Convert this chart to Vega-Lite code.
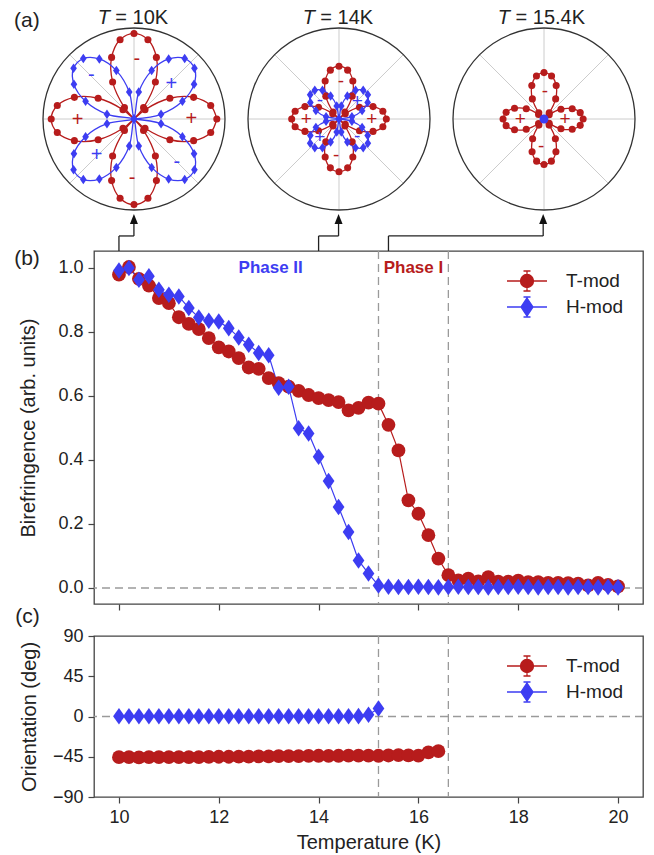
{
  "$schema": "https://vega.github.io/schema/vega-lite/v6.json",
  "padding": {"left": 13, "top": 7, "right": 0, "bottom": 0},
  "bounds": "flush",
  "spacing": 32,
  "resolve": {"scale": {"color": "independent", "shape": "independent", "fill": "independent", "stroke": "independent"}},
  "config": {
    "font": "Liberation Sans",
    "view": {"stroke": "#444444", "strokeWidth": 1.3},
    "axis": {"domain": false, "grid": false, "tickColor": "#444444", "tickSize": 6, "tickWidth": 1.2, "labelFontSize": 18, "labelColor": "#222222", "labelPadding": 5, "titleFontSize": 20, "titleFontWeight": "normal", "titleColor": "#222222"},
    "legend": {"orient": "top-right", "offset": 19, "padding": 0, "labelFontSize": 19, "labelColor": "#222222", "symbolSize": 400, "labelOffset": 28, "rowPadding": 0, "symbolStrokeWidth": 1.3, "symbolOpacity": 1}
  },
  "datasets": {
    "spokes": [
      {"x": -1, "y": 0, "x2": 1, "y2": 0},
      {"x": 0, "y": -1, "x2": 0, "y2": 1},
      {"x": -0.7071, "y": -0.7071, "x2": 0.7071, "y2": 0.7071},
      {"x": -0.7071, "y": 0.7071, "x2": 0.7071, "y2": -0.7071}
    ],
    "p10": [
      {"s": "T", "i": 0, "x": 0.91, "y": 0},
      {"s": "T", "i": 10, "x": 0.843, "y": 0.148},
      {"s": "T", "i": 20, "x": 0.655, "y": 0.238},
      {"s": "T", "i": 30, "x": 0.394, "y": 0.228},
      {"s": "T", "i": 40, "x": 0.121, "y": 0.102},
      {"s": "T", "i": 45, "x": 0, "y": 0},
      {"s": "T", "i": 50, "x": 0.105, "y": 0.125},
      {"s": "T", "i": 60, "x": 0.235, "y": 0.407},
      {"s": "T", "i": 70, "x": 0.246, "y": 0.677},
      {"s": "T", "i": 80, "x": 0.153, "y": 0.87},
      {"s": "T", "i": 90, "x": 0, "y": 0.94},
      {"s": "T", "i": 100, "x": -0.153, "y": 0.87},
      {"s": "T", "i": 110, "x": -0.246, "y": 0.677},
      {"s": "T", "i": 120, "x": -0.235, "y": 0.407},
      {"s": "T", "i": 130, "x": -0.105, "y": 0.125},
      {"s": "T", "i": 135, "x": 0, "y": 0},
      {"s": "T", "i": 140, "x": -0.121, "y": 0.102},
      {"s": "T", "i": 150, "x": -0.394, "y": 0.228},
      {"s": "T", "i": 160, "x": -0.655, "y": 0.238},
      {"s": "T", "i": 170, "x": -0.843, "y": 0.148},
      {"s": "T", "i": 180, "x": -0.91, "y": 0},
      {"s": "T", "i": 190, "x": -0.843, "y": -0.148},
      {"s": "T", "i": 200, "x": -0.655, "y": -0.238},
      {"s": "T", "i": 210, "x": -0.394, "y": -0.228},
      {"s": "T", "i": 220, "x": -0.121, "y": -0.102},
      {"s": "T", "i": 225, "x": 0, "y": 0},
      {"s": "T", "i": 230, "x": -0.105, "y": -0.125},
      {"s": "T", "i": 240, "x": -0.235, "y": -0.407},
      {"s": "T", "i": 250, "x": -0.246, "y": -0.677},
      {"s": "T", "i": 260, "x": -0.153, "y": -0.87},
      {"s": "T", "i": 270, "x": 0, "y": -0.94},
      {"s": "T", "i": 280, "x": 0.153, "y": -0.87},
      {"s": "T", "i": 290, "x": 0.246, "y": -0.677},
      {"s": "T", "i": 300, "x": 0.235, "y": -0.407},
      {"s": "T", "i": 310, "x": 0.105, "y": -0.125},
      {"s": "T", "i": 315, "x": 0, "y": 0},
      {"s": "T", "i": 320, "x": 0.121, "y": -0.102},
      {"s": "T", "i": 330, "x": 0.394, "y": -0.228},
      {"s": "T", "i": 340, "x": 0.655, "y": -0.238},
      {"s": "T", "i": 350, "x": 0.843, "y": -0.148},
      {"s": "T", "i": 360, "x": 0.91, "y": 0},
      {"s": "H", "i": 0, "x": 0, "y": 0},
      {"s": "H", "i": 10, "x": 0.297, "y": 0.052},
      {"s": "H", "i": 20, "x": 0.532, "y": 0.194},
      {"s": "H", "i": 30, "x": 0.66, "y": 0.381},
      {"s": "H", "i": 40, "x": 0.664, "y": 0.557},
      {"s": "H", "i": 50, "x": 0.557, "y": 0.664},
      {"s": "H", "i": 60, "x": 0.381, "y": 0.66},
      {"s": "H", "i": 70, "x": 0.194, "y": 0.532},
      {"s": "H", "i": 80, "x": 0.052, "y": 0.297},
      {"s": "H", "i": 90, "x": 0, "y": 0},
      {"s": "H", "i": 100, "x": -0.052, "y": 0.297},
      {"s": "H", "i": 110, "x": -0.194, "y": 0.532},
      {"s": "H", "i": 120, "x": -0.381, "y": 0.66},
      {"s": "H", "i": 130, "x": -0.557, "y": 0.664},
      {"s": "H", "i": 140, "x": -0.664, "y": 0.557},
      {"s": "H", "i": 150, "x": -0.66, "y": 0.381},
      {"s": "H", "i": 160, "x": -0.532, "y": 0.194},
      {"s": "H", "i": 170, "x": -0.297, "y": 0.052},
      {"s": "H", "i": 180, "x": 0, "y": 0},
      {"s": "H", "i": 190, "x": -0.297, "y": -0.052},
      {"s": "H", "i": 200, "x": -0.532, "y": -0.194},
      {"s": "H", "i": 210, "x": -0.66, "y": -0.381},
      {"s": "H", "i": 220, "x": -0.664, "y": -0.557},
      {"s": "H", "i": 230, "x": -0.557, "y": -0.664},
      {"s": "H", "i": 240, "x": -0.381, "y": -0.66},
      {"s": "H", "i": 250, "x": -0.194, "y": -0.532},
      {"s": "H", "i": 260, "x": -0.052, "y": -0.297},
      {"s": "H", "i": 270, "x": 0, "y": 0},
      {"s": "H", "i": 280, "x": 0.052, "y": -0.297},
      {"s": "H", "i": 290, "x": 0.194, "y": -0.532},
      {"s": "H", "i": 300, "x": 0.381, "y": -0.66},
      {"s": "H", "i": 310, "x": 0.557, "y": -0.664},
      {"s": "H", "i": 320, "x": 0.664, "y": -0.557},
      {"s": "H", "i": 330, "x": 0.66, "y": -0.381},
      {"s": "H", "i": 340, "x": 0.532, "y": -0.194},
      {"s": "H", "i": 350, "x": 0.297, "y": -0.052},
      {"s": "H", "i": 360, "x": 0, "y": 0}
    ],
    "p14": [
      {"s": "T", "i": 0, "x": 0.52, "y": 0},
      {"s": "T", "i": 10, "x": 0.482, "y": 0.085},
      {"s": "T", "i": 20, "x": 0.374, "y": 0.136},
      {"s": "T", "i": 30, "x": 0.225, "y": 0.13},
      {"s": "T", "i": 40, "x": 0.069, "y": 0.058},
      {"s": "T", "i": 45, "x": 0, "y": 0},
      {"s": "T", "i": 50, "x": 0.065, "y": 0.077},
      {"s": "T", "i": 60, "x": 0.145, "y": 0.251},
      {"s": "T", "i": 70, "x": 0.152, "y": 0.418},
      {"s": "T", "i": 80, "x": 0.095, "y": 0.537},
      {"s": "T", "i": 90, "x": 0, "y": 0.58},
      {"s": "T", "i": 100, "x": -0.095, "y": 0.537},
      {"s": "T", "i": 110, "x": -0.152, "y": 0.418},
      {"s": "T", "i": 120, "x": -0.145, "y": 0.251},
      {"s": "T", "i": 130, "x": -0.065, "y": 0.077},
      {"s": "T", "i": 135, "x": 0, "y": 0},
      {"s": "T", "i": 140, "x": -0.069, "y": 0.058},
      {"s": "T", "i": 150, "x": -0.225, "y": 0.13},
      {"s": "T", "i": 160, "x": -0.374, "y": 0.136},
      {"s": "T", "i": 170, "x": -0.482, "y": 0.085},
      {"s": "T", "i": 180, "x": -0.52, "y": 0},
      {"s": "T", "i": 190, "x": -0.482, "y": -0.085},
      {"s": "T", "i": 200, "x": -0.374, "y": -0.136},
      {"s": "T", "i": 210, "x": -0.225, "y": -0.13},
      {"s": "T", "i": 220, "x": -0.069, "y": -0.058},
      {"s": "T", "i": 225, "x": 0, "y": 0},
      {"s": "T", "i": 230, "x": -0.065, "y": -0.077},
      {"s": "T", "i": 240, "x": -0.145, "y": -0.251},
      {"s": "T", "i": 250, "x": -0.152, "y": -0.418},
      {"s": "T", "i": 260, "x": -0.095, "y": -0.537},
      {"s": "T", "i": 270, "x": 0, "y": -0.58},
      {"s": "T", "i": 280, "x": 0.095, "y": -0.537},
      {"s": "T", "i": 290, "x": 0.152, "y": -0.418},
      {"s": "T", "i": 300, "x": 0.145, "y": -0.251},
      {"s": "T", "i": 310, "x": 0.065, "y": -0.077},
      {"s": "T", "i": 315, "x": 0, "y": 0},
      {"s": "T", "i": 320, "x": 0.069, "y": -0.058},
      {"s": "T", "i": 330, "x": 0.225, "y": -0.13},
      {"s": "T", "i": 340, "x": 0.374, "y": -0.136},
      {"s": "T", "i": 350, "x": 0.482, "y": -0.085},
      {"s": "T", "i": 360, "x": 0.52, "y": 0},
      {"s": "H", "i": 0, "x": 0, "y": 0},
      {"s": "H", "i": 10, "x": 0.142, "y": 0.025},
      {"s": "H", "i": 20, "x": 0.254, "y": 0.092},
      {"s": "H", "i": 30, "x": 0.315, "y": 0.182},
      {"s": "H", "i": 40, "x": 0.317, "y": 0.266},
      {"s": "H", "i": 50, "x": 0.266, "y": 0.317},
      {"s": "H", "i": 60, "x": 0.182, "y": 0.315},
      {"s": "H", "i": 70, "x": 0.092, "y": 0.254},
      {"s": "H", "i": 80, "x": 0.025, "y": 0.142},
      {"s": "H", "i": 90, "x": 0, "y": 0},
      {"s": "H", "i": 100, "x": -0.025, "y": 0.142},
      {"s": "H", "i": 110, "x": -0.092, "y": 0.254},
      {"s": "H", "i": 120, "x": -0.182, "y": 0.315},
      {"s": "H", "i": 130, "x": -0.266, "y": 0.317},
      {"s": "H", "i": 140, "x": -0.317, "y": 0.266},
      {"s": "H", "i": 150, "x": -0.315, "y": 0.182},
      {"s": "H", "i": 160, "x": -0.254, "y": 0.092},
      {"s": "H", "i": 170, "x": -0.142, "y": 0.025},
      {"s": "H", "i": 180, "x": 0, "y": 0},
      {"s": "H", "i": 190, "x": -0.142, "y": -0.025},
      {"s": "H", "i": 200, "x": -0.254, "y": -0.092},
      {"s": "H", "i": 210, "x": -0.315, "y": -0.182},
      {"s": "H", "i": 220, "x": -0.317, "y": -0.266},
      {"s": "H", "i": 230, "x": -0.266, "y": -0.317},
      {"s": "H", "i": 240, "x": -0.182, "y": -0.315},
      {"s": "H", "i": 250, "x": -0.092, "y": -0.254},
      {"s": "H", "i": 260, "x": -0.025, "y": -0.142},
      {"s": "H", "i": 270, "x": 0, "y": 0},
      {"s": "H", "i": 280, "x": 0.025, "y": -0.142},
      {"s": "H", "i": 290, "x": 0.092, "y": -0.254},
      {"s": "H", "i": 300, "x": 0.182, "y": -0.315},
      {"s": "H", "i": 310, "x": 0.266, "y": -0.317},
      {"s": "H", "i": 320, "x": 0.317, "y": -0.266},
      {"s": "H", "i": 330, "x": 0.315, "y": -0.182},
      {"s": "H", "i": 340, "x": 0.254, "y": -0.092},
      {"s": "H", "i": 350, "x": 0.142, "y": -0.025},
      {"s": "H", "i": 360, "x": 0, "y": 0}
    ],
    "p15": [
      {"s": "T", "i": 0, "x": 0.43, "y": 0},
      {"s": "T", "i": 10, "x": 0.398, "y": 0.07},
      {"s": "T", "i": 20, "x": 0.31, "y": 0.113},
      {"s": "T", "i": 30, "x": 0.186, "y": 0.108},
      {"s": "T", "i": 40, "x": 0.057, "y": 0.048},
      {"s": "T", "i": 45, "x": 0, "y": 0},
      {"s": "T", "i": 50, "x": 0.057, "y": 0.068},
      {"s": "T", "i": 60, "x": 0.128, "y": 0.221},
      {"s": "T", "i": 70, "x": 0.134, "y": 0.367},
      {"s": "T", "i": 80, "x": 0.083, "y": 0.472},
      {"s": "T", "i": 90, "x": 0, "y": 0.51},
      {"s": "T", "i": 100, "x": -0.083, "y": 0.472},
      {"s": "T", "i": 110, "x": -0.134, "y": 0.367},
      {"s": "T", "i": 120, "x": -0.128, "y": 0.221},
      {"s": "T", "i": 130, "x": -0.057, "y": 0.068},
      {"s": "T", "i": 135, "x": 0, "y": 0},
      {"s": "T", "i": 140, "x": -0.06, "y": 0.05},
      {"s": "T", "i": 150, "x": -0.195, "y": 0.113},
      {"s": "T", "i": 160, "x": -0.324, "y": 0.118},
      {"s": "T", "i": 170, "x": -0.416, "y": 0.073},
      {"s": "T", "i": 180, "x": -0.45, "y": 0},
      {"s": "T", "i": 190, "x": -0.416, "y": -0.073},
      {"s": "T", "i": 200, "x": -0.324, "y": -0.118},
      {"s": "T", "i": 210, "x": -0.195, "y": -0.113},
      {"s": "T", "i": 220, "x": -0.06, "y": -0.05},
      {"s": "T", "i": 225, "x": 0, "y": 0},
      {"s": "T", "i": 230, "x": -0.056, "y": -0.067},
      {"s": "T", "i": 240, "x": -0.125, "y": -0.217},
      {"s": "T", "i": 250, "x": -0.131, "y": -0.36},
      {"s": "T", "i": 260, "x": -0.081, "y": -0.463},
      {"s": "T", "i": 270, "x": 0, "y": -0.5},
      {"s": "T", "i": 280, "x": 0.081, "y": -0.463},
      {"s": "T", "i": 290, "x": 0.131, "y": -0.36},
      {"s": "T", "i": 300, "x": 0.125, "y": -0.217},
      {"s": "T", "i": 310, "x": 0.056, "y": -0.067},
      {"s": "T", "i": 315, "x": 0, "y": 0},
      {"s": "T", "i": 320, "x": 0.057, "y": -0.048},
      {"s": "T", "i": 330, "x": 0.186, "y": -0.108},
      {"s": "T", "i": 340, "x": 0.31, "y": -0.113},
      {"s": "T", "i": 350, "x": 0.398, "y": -0.07},
      {"s": "T", "i": 360, "x": 0.43, "y": 0},
      {"s": "H", "i": 0, "x": 0, "y": 0}
    ],
    "signs": [
      {"p": "10K", "c": "T", "t": "-", "x": 0.03, "y": 0.66},
      {"p": "10K", "c": "T", "t": "+", "x": 0.63, "y": 0},
      {"p": "10K", "c": "T", "t": "+", "x": -0.62, "y": -0.01},
      {"p": "10K", "c": "T", "t": "-", "x": -0.02, "y": -0.65},
      {"p": "10K", "c": "H", "t": "+", "x": 0.41, "y": 0.39},
      {"p": "10K", "c": "H", "t": "-", "x": -0.47, "y": 0.48},
      {"p": "10K", "c": "H", "t": "+", "x": -0.41, "y": -0.4},
      {"p": "10K", "c": "H", "t": "-", "x": 0.47, "y": -0.47},
      {"p": "14K", "c": "T", "t": "-", "x": 0.02, "y": 0.42},
      {"p": "14K", "c": "T", "t": "+", "x": 0.36, "y": 0},
      {"p": "14K", "c": "T", "t": "+", "x": -0.36, "y": 0},
      {"p": "14K", "c": "T", "t": "-", "x": -0.03, "y": -0.4},
      {"p": "14K", "c": "H", "t": "-", "x": -0.21, "y": 0.21},
      {"p": "14K", "c": "H", "t": "+", "x": 0.2, "y": 0.2},
      {"p": "14K", "c": "H", "t": "+", "x": -0.21, "y": -0.2},
      {"p": "14K", "c": "H", "t": "-", "x": 0.2, "y": -0.19},
      {"p": "15.4K", "c": "T", "t": "-", "x": 0.01, "y": 0.31},
      {"p": "15.4K", "c": "T", "t": "+", "x": 0.23, "y": 0},
      {"p": "15.4K", "c": "T", "t": "+", "x": -0.26, "y": 0},
      {"p": "15.4K", "c": "T", "t": "-", "x": -0.03, "y": -0.3}
    ],
    "bire": [
      {"T": 10.0, "mod": "T-mod", "v": 0.979}, {"T": 10.2, "mod": "T-mod", "v": 1.003}, {"T": 10.4, "mod": "T-mod", "v": 0.966},
      {"T": 10.6, "mod": "T-mod", "v": 0.945}, {"T": 10.8, "mod": "T-mod", "v": 0.906}, {"T": 11.0, "mod": "T-mod", "v": 0.89},
      {"T": 11.2, "mod": "T-mod", "v": 0.846}, {"T": 11.4, "mod": "T-mod", "v": 0.825}, {"T": 11.6, "mod": "T-mod", "v": 0.809},
      {"T": 11.8, "mod": "T-mod", "v": 0.781}, {"T": 12.0, "mod": "T-mod", "v": 0.752}, {"T": 12.2, "mod": "T-mod", "v": 0.739},
      {"T": 12.4, "mod": "T-mod", "v": 0.718}, {"T": 12.6, "mod": "T-mod", "v": 0.689}, {"T": 12.8, "mod": "T-mod", "v": 0.685},
      {"T": 13.0, "mod": "T-mod", "v": 0.656}, {"T": 13.2, "mod": "T-mod", "v": 0.64}, {"T": 13.4, "mod": "T-mod", "v": 0.629},
      {"T": 13.6, "mod": "T-mod", "v": 0.616}, {"T": 13.8, "mod": "T-mod", "v": 0.603}, {"T": 14.0, "mod": "T-mod", "v": 0.593},
      {"T": 14.2, "mod": "T-mod", "v": 0.587}, {"T": 14.4, "mod": "T-mod", "v": 0.581}, {"T": 14.6, "mod": "T-mod", "v": 0.555},
      {"T": 14.8, "mod": "T-mod", "v": 0.563}, {"T": 15.0, "mod": "T-mod", "v": 0.579}, {"T": 15.2, "mod": "T-mod", "v": 0.576},
      {"T": 15.4, "mod": "T-mod", "v": 0.51}, {"T": 15.6, "mod": "T-mod", "v": 0.43}, {"T": 15.8, "mod": "T-mod", "v": 0.274},
      {"T": 16.0, "mod": "T-mod", "v": 0.232}, {"T": 16.2, "mod": "T-mod", "v": 0.165}, {"T": 16.4, "mod": "T-mod", "v": 0.092},
      {"T": 16.6, "mod": "T-mod", "v": 0.04}, {"T": 16.8, "mod": "T-mod", "v": 0.024}, {"T": 17.0, "mod": "T-mod", "v": 0.029},
      {"T": 17.2, "mod": "T-mod", "v": 0.021}, {"T": 17.4, "mod": "T-mod", "v": 0.034}, {"T": 17.6, "mod": "T-mod", "v": 0.02},
      {"T": 17.8, "mod": "T-mod", "v": 0.02}, {"T": 18.0, "mod": "T-mod", "v": 0.023}, {"T": 18.2, "mod": "T-mod", "v": 0.018},
      {"T": 18.4, "mod": "T-mod", "v": 0.018}, {"T": 18.6, "mod": "T-mod", "v": 0.016}, {"T": 18.8, "mod": "T-mod", "v": 0.016},
      {"T": 19.0, "mod": "T-mod", "v": 0.015}, {"T": 19.2, "mod": "T-mod", "v": 0.014}, {"T": 19.4, "mod": "T-mod", "v": 0.008},
      {"T": 19.6, "mod": "T-mod", "v": 0.016}, {"T": 19.8, "mod": "T-mod", "v": 0.01}, {"T": 20.0, "mod": "T-mod", "v": 0.005},
      {"T": 10.0, "mod": "H-mod", "v": 0.992}, {"T": 10.2, "mod": "H-mod", "v": 1.0}, {"T": 10.4, "mod": "H-mod", "v": 0.963},
      {"T": 10.6, "mod": "H-mod", "v": 0.974}, {"T": 10.8, "mod": "H-mod", "v": 0.932}, {"T": 11.0, "mod": "H-mod", "v": 0.916},
      {"T": 11.2, "mod": "H-mod", "v": 0.911}, {"T": 11.4, "mod": "H-mod", "v": 0.875}, {"T": 11.6, "mod": "H-mod", "v": 0.845},
      {"T": 11.8, "mod": "H-mod", "v": 0.835}, {"T": 12.0, "mod": "H-mod", "v": 0.833}, {"T": 12.2, "mod": "H-mod", "v": 0.812},
      {"T": 12.4, "mod": "H-mod", "v": 0.783}, {"T": 12.6, "mod": "H-mod", "v": 0.76}, {"T": 12.8, "mod": "H-mod", "v": 0.734},
      {"T": 13.0, "mod": "H-mod", "v": 0.727}, {"T": 13.2, "mod": "H-mod", "v": 0.626}, {"T": 13.4, "mod": "H-mod", "v": 0.629},
      {"T": 13.6, "mod": "H-mod", "v": 0.499}, {"T": 13.8, "mod": "H-mod", "v": 0.483}, {"T": 14.0, "mod": "H-mod", "v": 0.41},
      {"T": 14.2, "mod": "H-mod", "v": 0.334}, {"T": 14.4, "mod": "H-mod", "v": 0.253}, {"T": 14.6, "mod": "H-mod", "v": 0.175},
      {"T": 14.8, "mod": "H-mod", "v": 0.086}, {"T": 15.0, "mod": "H-mod", "v": 0.045}, {"T": 15.2, "mod": "H-mod", "v": 0.008},
      {"T": 15.4, "mod": "H-mod", "v": 0.004}, {"T": 15.6, "mod": "H-mod", "v": 0.003}, {"T": 15.8, "mod": "H-mod", "v": 0.003},
      {"T": 16.0, "mod": "H-mod", "v": 0.004}, {"T": 16.2, "mod": "H-mod", "v": 0.003}, {"T": 16.4, "mod": "H-mod", "v": 0.002},
      {"T": 16.6, "mod": "H-mod", "v": 0.003}, {"T": 16.8, "mod": "H-mod", "v": 0.004}, {"T": 17.0, "mod": "H-mod", "v": 0.003},
      {"T": 17.2, "mod": "H-mod", "v": 0.003}, {"T": 17.4, "mod": "H-mod", "v": 0.002}, {"T": 17.6, "mod": "H-mod", "v": 0.003},
      {"T": 17.8, "mod": "H-mod", "v": 0.003}, {"T": 18.0, "mod": "H-mod", "v": 0.004}, {"T": 18.2, "mod": "H-mod", "v": 0.003},
      {"T": 18.4, "mod": "H-mod", "v": 0.002}, {"T": 18.6, "mod": "H-mod", "v": 0.003}, {"T": 18.8, "mod": "H-mod", "v": 0.003},
      {"T": 19.0, "mod": "H-mod", "v": 0.002}, {"T": 19.2, "mod": "H-mod", "v": 0.003}, {"T": 19.4, "mod": "H-mod", "v": 0.003},
      {"T": 19.6, "mod": "H-mod", "v": 0.002}, {"T": 19.8, "mod": "H-mod", "v": 0.003}, {"T": 20.0, "mod": "H-mod", "v": 0.002}
    ],
    "orient": [
      {"T": 10.0, "mod": "T-mod", "v": -45.5}, {"T": 10.2, "mod": "T-mod", "v": -45.5}, {"T": 10.4, "mod": "T-mod", "v": -45.6},
      {"T": 10.6, "mod": "T-mod", "v": -45.5}, {"T": 10.8, "mod": "T-mod", "v": -45.4}, {"T": 11.0, "mod": "T-mod", "v": -45.3},
      {"T": 11.2, "mod": "T-mod", "v": -45.3}, {"T": 11.4, "mod": "T-mod", "v": -45.4}, {"T": 11.6, "mod": "T-mod", "v": -45.3},
      {"T": 11.8, "mod": "T-mod", "v": -45.1}, {"T": 12.0, "mod": "T-mod", "v": -45.0}, {"T": 12.2, "mod": "T-mod", "v": -45.0},
      {"T": 12.4, "mod": "T-mod", "v": -44.8}, {"T": 12.6, "mod": "T-mod", "v": -44.8}, {"T": 12.8, "mod": "T-mod", "v": -44.6},
      {"T": 13.0, "mod": "T-mod", "v": -44.5}, {"T": 13.2, "mod": "T-mod", "v": -44.4}, {"T": 13.4, "mod": "T-mod", "v": -44.3},
      {"T": 13.6, "mod": "T-mod", "v": -44.2}, {"T": 13.8, "mod": "T-mod", "v": -44.0}, {"T": 14.0, "mod": "T-mod", "v": -43.9},
      {"T": 14.2, "mod": "T-mod", "v": -44.0}, {"T": 14.4, "mod": "T-mod", "v": -43.9}, {"T": 14.6, "mod": "T-mod", "v": -43.8},
      {"T": 14.8, "mod": "T-mod", "v": -43.7}, {"T": 15.0, "mod": "T-mod", "v": -43.8}, {"T": 15.2, "mod": "T-mod", "v": -43.9},
      {"T": 15.4, "mod": "T-mod", "v": -43.6}, {"T": 15.6, "mod": "T-mod", "v": -43.3}, {"T": 15.8, "mod": "T-mod", "v": -43.4},
      {"T": 16.0, "mod": "T-mod", "v": -43.7}, {"T": 16.2, "mod": "T-mod", "v": -40.0}, {"T": 16.4, "mod": "T-mod", "v": -38.8},
      {"T": 10.0, "mod": "H-mod", "v": 0.2}, {"T": 10.2, "mod": "H-mod", "v": 0.3}, {"T": 10.4, "mod": "H-mod", "v": 0.2},
      {"T": 10.6, "mod": "H-mod", "v": 0.2}, {"T": 10.8, "mod": "H-mod", "v": 0.3}, {"T": 11.0, "mod": "H-mod", "v": 0.2},
      {"T": 11.2, "mod": "H-mod", "v": 0.2}, {"T": 11.4, "mod": "H-mod", "v": 0.3}, {"T": 11.6, "mod": "H-mod", "v": 0.2},
      {"T": 11.8, "mod": "H-mod", "v": 0.2}, {"T": 12.0, "mod": "H-mod", "v": 0.3}, {"T": 12.2, "mod": "H-mod", "v": 0.2},
      {"T": 12.4, "mod": "H-mod", "v": 0.2}, {"T": 12.6, "mod": "H-mod", "v": 0.3}, {"T": 12.8, "mod": "H-mod", "v": 0.2},
      {"T": 13.0, "mod": "H-mod", "v": 0.2}, {"T": 13.2, "mod": "H-mod", "v": 0.3}, {"T": 13.4, "mod": "H-mod", "v": 0.2},
      {"T": 13.6, "mod": "H-mod", "v": 0.2}, {"T": 13.8, "mod": "H-mod", "v": 0.3}, {"T": 14.0, "mod": "H-mod", "v": 0.2},
      {"T": 14.2, "mod": "H-mod", "v": 0.2}, {"T": 14.4, "mod": "H-mod", "v": 0.3}, {"T": 14.6, "mod": "H-mod", "v": 0.3},
      {"T": 14.8, "mod": "H-mod", "v": 0.4}, {"T": 15.0, "mod": "H-mod", "v": 2.0}, {"T": 15.2, "mod": "H-mod", "v": 9.0}
    ]
  },
  "vconcat": [
    {
      "width": 549, "height": 191,
      "view": {"stroke": null},
      "resolve": {"scale": {"x": "independent"}},
      "layer": [
        {
          "layer": [
            {"data": {"name": "spokes"}, "mark": {"type": "rule", "color": "#cccccc", "strokeWidth": 1},
             "encoding": {"x": {"field": "x", "type": "quantitative", "scale": {"domain": [-0.4396, 5.5934], "nice": false, "zero": false}, "axis": null},
                          "y": {"field": "y", "type": "quantitative", "scale": {"domain": [-1.0989, 1], "nice": false, "zero": false}, "axis": null},
                          "x2": {"field": "x2"}, "y2": {"field": "y2"}}},
            {"data": {"values": [{}]}, "mark": {"type": "point", "shape": "circle", "size": 33124, "filled": false, "stroke": "#333333", "strokeWidth": 1.3, "opacity": 1},
             "encoding": {"x": {"datum": 0, "type": "quantitative"}, "y": {"datum": 0, "type": "quantitative"}}},
            {"data": {"name": "p10"}, "transform": [{"filter": "datum.s === 'T'"}], "mark": {"type": "line", "color": "#b71c1c", "strokeWidth": 1.3, "interpolate": "catmull-rom"},
             "encoding": {"x": {"field": "x", "type": "quantitative"}, "y": {"field": "y", "type": "quantitative"}, "order": {"field": "i", "type": "quantitative"}}},
            {"data": {"name": "p10"}, "transform": [{"filter": "datum.s === 'H'"}], "mark": {"type": "line", "color": "#3d3df2", "strokeWidth": 1.3, "interpolate": "catmull-rom"},
             "encoding": {"x": {"field": "x", "type": "quantitative"}, "y": {"field": "y", "type": "quantitative"}, "order": {"field": "i", "type": "quantitative"}}},
            {"data": {"name": "p10"}, "transform": [{"filter": "datum.s === 'T' && datum.i % 10 === 0 && datum.i < 360"}], "mark": {"type": "point", "shape": "circle", "filled": true, "color": "#b71c1c", "size": 50, "opacity": 1},
             "encoding": {"x": {"field": "x", "type": "quantitative"}, "y": {"field": "y", "type": "quantitative"}}},
            {"data": {"name": "p10"}, "transform": [{"filter": "datum.s === 'H' && datum.i < 360"}], "mark": {"type": "point", "shape": "M0,-1L0.7,0L0,1L-0.7,0Z", "filled": true, "color": "#3d3df2", "size": 90, "opacity": 1},
             "encoding": {"x": {"field": "x", "type": "quantitative"}, "y": {"field": "y", "type": "quantitative"}}},
            {"data": {"name": "signs"}, "transform": [{"filter": "datum.p === '10K'"}], "mark": {"type": "text", "fontSize": 20, "align": "center", "baseline": "middle"},
             "encoding": {"x": {"field": "x", "type": "quantitative"}, "y": {"field": "y", "type": "quantitative"}, "text": {"field": "t"},
                          "color": {"field": "c", "type": "nominal", "scale": {"domain": ["T", "H"], "range": ["#b71c1c", "#3d3df2"]}, "legend": null}}},
            {"data": {"values": [{}]}, "mark": {"type": "text", "text": "T", "fontStyle": "italic", "fontSize": 20, "align": "left", "baseline": "alphabetic", "color": "#222222"},
             "encoding": {"x": {"datum": -0.399, "type": "quantitative"}, "y": {"datum": 1.047, "type": "quantitative"}}},
            {"data": {"values": [{}]}, "mark": {"type": "text", "text": "= 10K", "fontSize": 20, "align": "left", "baseline": "alphabetic", "color": "#222222"},
             "encoding": {"x": {"datum": -0.205, "type": "quantitative"}, "y": {"datum": 1.047, "type": "quantitative"}}},
            {"data": {"values": [{}]}, "mark": {"type": "text", "text": "(a)", "fontSize": 21, "align": "left", "baseline": "alphabetic", "color": "#222222"},
             "encoding": {"x": {"datum": -1.319, "type": "quantitative"}, "y": {"datum": 1.011, "type": "quantitative"}}}
          ]
        },
        {
          "layer": [
            {"data": {"name": "spokes"}, "mark": {"type": "rule", "color": "#cccccc", "strokeWidth": 1},
             "encoding": {"x": {"field": "x", "type": "quantitative", "scale": {"domain": [-2.6923, 3.3407], "nice": false, "zero": false}, "axis": null},
                          "y": {"field": "y", "type": "quantitative", "scale": {"domain": [-1.0989, 1], "nice": false, "zero": false}, "axis": null},
                          "x2": {"field": "x2"}, "y2": {"field": "y2"}}},
            {"data": {"values": [{}]}, "mark": {"type": "point", "shape": "circle", "size": 33124, "filled": false, "stroke": "#333333", "strokeWidth": 1.3, "opacity": 1},
             "encoding": {"x": {"datum": 0, "type": "quantitative"}, "y": {"datum": 0, "type": "quantitative"}}},
            {"data": {"name": "p14"}, "transform": [{"filter": "datum.s === 'T'"}], "mark": {"type": "line", "color": "#b71c1c", "strokeWidth": 1.3, "interpolate": "catmull-rom"},
             "encoding": {"x": {"field": "x", "type": "quantitative"}, "y": {"field": "y", "type": "quantitative"}, "order": {"field": "i", "type": "quantitative"}}},
            {"data": {"name": "p14"}, "transform": [{"filter": "datum.s === 'H'"}], "mark": {"type": "line", "color": "#3d3df2", "strokeWidth": 1.3, "interpolate": "catmull-rom"},
             "encoding": {"x": {"field": "x", "type": "quantitative"}, "y": {"field": "y", "type": "quantitative"}, "order": {"field": "i", "type": "quantitative"}}},
            {"data": {"name": "p14"}, "transform": [{"filter": "datum.s === 'T' && datum.i % 10 === 0 && datum.i < 360"}], "mark": {"type": "point", "shape": "circle", "filled": true, "color": "#b71c1c", "size": 50, "opacity": 1},
             "encoding": {"x": {"field": "x", "type": "quantitative"}, "y": {"field": "y", "type": "quantitative"}}},
            {"data": {"name": "p14"}, "transform": [{"filter": "datum.s === 'H' && datum.i < 360"}], "mark": {"type": "point", "shape": "M0,-1L0.7,0L0,1L-0.7,0Z", "filled": true, "color": "#3d3df2", "size": 90, "opacity": 1},
             "encoding": {"x": {"field": "x", "type": "quantitative"}, "y": {"field": "y", "type": "quantitative"}}},
            {"data": {"name": "signs"}, "transform": [{"filter": "datum.p === '14K'"}], "mark": {"type": "text", "fontSize": 19, "align": "center", "baseline": "middle"},
             "encoding": {"x": {"field": "x", "type": "quantitative"}, "y": {"field": "y", "type": "quantitative"}, "text": {"field": "t"},
                          "color": {"field": "c", "type": "nominal", "scale": {"domain": ["T", "H"], "range": ["#b71c1c", "#3d3df2"]}, "legend": null}}},
            {"data": {"values": [{}]}, "mark": {"type": "text", "text": "T", "fontStyle": "italic", "fontSize": 20, "align": "left", "baseline": "alphabetic", "color": "#222222"},
             "encoding": {"x": {"datum": -0.399, "type": "quantitative"}, "y": {"datum": 1.047, "type": "quantitative"}}},
            {"data": {"values": [{}]}, "mark": {"type": "text", "text": "= 14K", "fontSize": 20, "align": "left", "baseline": "alphabetic", "color": "#222222"},
             "encoding": {"x": {"datum": -0.205, "type": "quantitative"}, "y": {"datum": 1.047, "type": "quantitative"}}}
          ]
        },
        {
          "layer": [
            {"data": {"name": "spokes"}, "mark": {"type": "rule", "color": "#cccccc", "strokeWidth": 1},
             "encoding": {"x": {"field": "x", "type": "quantitative", "scale": {"domain": [-4.9451, 1.0879], "nice": false, "zero": false}, "axis": null},
                          "y": {"field": "y", "type": "quantitative", "scale": {"domain": [-1.0989, 1], "nice": false, "zero": false}, "axis": null},
                          "x2": {"field": "x2"}, "y2": {"field": "y2"}}},
            {"data": {"values": [{}]}, "mark": {"type": "point", "shape": "circle", "size": 33124, "filled": false, "stroke": "#333333", "strokeWidth": 1.3, "opacity": 1},
             "encoding": {"x": {"datum": 0, "type": "quantitative"}, "y": {"datum": 0, "type": "quantitative"}}},
            {"data": {"name": "p15"}, "transform": [{"filter": "datum.s === 'T'"}], "mark": {"type": "line", "color": "#b71c1c", "strokeWidth": 1.3, "interpolate": "catmull-rom"},
             "encoding": {"x": {"field": "x", "type": "quantitative"}, "y": {"field": "y", "type": "quantitative"}, "order": {"field": "i", "type": "quantitative"}}},
            {"data": {"name": "p15"}, "transform": [{"filter": "datum.s === 'T' && datum.i % 10 === 0 && datum.i < 360"}], "mark": {"type": "point", "shape": "circle", "filled": true, "color": "#b71c1c", "size": 50, "opacity": 1},
             "encoding": {"x": {"field": "x", "type": "quantitative"}, "y": {"field": "y", "type": "quantitative"}}},
            {"data": {"name": "p15"}, "transform": [{"filter": "datum.s === 'H'"}], "mark": {"type": "point", "shape": "circle", "filled": true, "color": "#3d3df2", "size": 80, "opacity": 1},
             "encoding": {"x": {"field": "x", "type": "quantitative"}, "y": {"field": "y", "type": "quantitative"}}},
            {"data": {"name": "signs"}, "transform": [{"filter": "datum.p === '15.4K'"}], "mark": {"type": "text", "fontSize": 19, "align": "center", "baseline": "middle"},
             "encoding": {"x": {"field": "x", "type": "quantitative"}, "y": {"field": "y", "type": "quantitative"}, "text": {"field": "t"},
                          "color": {"field": "c", "type": "nominal", "scale": {"domain": ["T", "H"], "range": ["#b71c1c", "#3d3df2"]}, "legend": null}}},
            {"data": {"values": [{}]}, "mark": {"type": "text", "text": "T", "fontStyle": "italic", "fontSize": 20, "align": "left", "baseline": "alphabetic", "color": "#222222"},
             "encoding": {"x": {"datum": -0.509, "type": "quantitative"}, "y": {"datum": 1.047, "type": "quantitative"}}},
            {"data": {"values": [{}]}, "mark": {"type": "text", "text": "= 15.4K", "fontSize": 20, "align": "left", "baseline": "alphabetic", "color": "#222222"},
             "encoding": {"x": {"datum": -0.313, "type": "quantitative"}, "y": {"datum": 1.047, "type": "quantitative"}}}
          ]
        }
      ]
    },
    {
      "width": 549, "height": 353,
      "layer": [
        {"data": {"name": "bire"}, "transform": [{"filter": "datum.mod === 'T-mod'"}], "mark": {"type": "line", "color": "#b71c1c", "strokeWidth": 1.2},
         "encoding": {"x": {"field": "T", "type": "quantitative", "scale": {"domain": [9.5, 20.5], "nice": false, "zero": false},
                            "axis": {"values": [10, 12, 14, 16, 18, 20], "labels": false, "title": null}},
                      "y": {"field": "v", "type": "quantitative", "scale": {"domain": [-0.05, 1.053], "nice": false, "zero": false},
                            "axis": {"values": [0, 0.2, 0.4, 0.6, 0.8, 1.0], "format": ".1f", "title": "Birefringence (arb. units)", "titlePadding": 19}}}},
        {"data": {"name": "bire"}, "transform": [{"filter": "datum.mod === 'H-mod'"}], "mark": {"type": "line", "color": "#3d3df2", "strokeWidth": 1.2},
         "encoding": {"x": {"field": "T", "type": "quantitative"}, "y": {"field": "v", "type": "quantitative"}}},
        {"data": {"values": [{}]}, "mark": {"type": "rule", "color": "#9a9a9a", "strokeWidth": 1.3, "strokeDash": [8, 5]},
         "encoding": {"y": {"datum": 0, "type": "quantitative"}}},
        {"data": {"values": [{}]}, "mark": {"type": "rule", "color": "#9a9a9a", "strokeWidth": 1.3, "strokeDash": [8, 5]},
         "encoding": {"x": {"datum": 15.2, "type": "quantitative"}}},
        {"data": {"values": [{}]}, "mark": {"type": "rule", "color": "#9a9a9a", "strokeWidth": 1.3, "strokeDash": [8, 5]},
         "encoding": {"x": {"datum": 16.6, "type": "quantitative"}}},
        {"data": {"name": "bire"}, "transform": [{"filter": "datum.mod === 'T-mod'"}], "mark": {"type": "point", "shape": "circle", "filled": true, "color": "#b71c1c", "size": 190, "opacity": 1},
         "encoding": {"x": {"field": "T", "type": "quantitative"}, "y": {"field": "v", "type": "quantitative"}}},
        {"data": {"name": "bire"}, "transform": [{"filter": "datum.mod === 'H-mod'"}], "mark": {"type": "point", "shape": "M0,-1.2L0.85,0L0,1.2L-0.85,0Z", "filled": true, "color": "#3d3df2", "size": 190, "opacity": 1},
         "encoding": {"x": {"field": "T", "type": "quantitative"}, "y": {"field": "v", "type": "quantitative"}}},
        {"data": {"name": "bire"}, "transform": [{"filter": "false"}], "mark": {"type": "point", "size": 400, "strokeWidth": 1.3, "opacity": 1},
         "encoding": {"x": {"field": "T", "type": "quantitative"}, "y": {"field": "v", "type": "quantitative"},
                      "fill": {"field": "mod", "type": "nominal", "scale": {"domain": ["T-mod", "H-mod"], "range": ["#b71c1c", "#3d3df2"]}, "legend": {"title": null}},
                      "stroke": {"field": "mod", "type": "nominal", "scale": {"domain": ["T-mod", "H-mod"], "range": ["#b71c1c", "#3d3df2"]}, "legend": {"title": null}},
                      "shape": {"field": "mod", "type": "nominal", "scale": {"domain": ["T-mod", "H-mod"], "range": ["M-2,0H2M0,-1V1M-0.35,-1H0.35M-0.35,1H0.35M0.65,0A0.65,0.65,0,1,1,-0.65,0A0.65,0.65,0,1,1,0.65,0Z", "M-2,0H2M0,-1V1M-0.35,-1H0.35M-0.35,1H0.35M0,-0.9L0.6,0L0,0.9L-0.6,0Z"]}, "legend": {"title": null}}}},
        {"data": {"values": [{}]}, "mark": {"type": "text", "text": "Phase II", "fontSize": 17, "fontWeight": "bold", "color": "#3d3df2", "align": "center", "baseline": "middle"},
         "encoding": {"x": {"datum": 13.04, "type": "quantitative"}, "y": {"datum": 1.0, "type": "quantitative"}}},
        {"data": {"values": [{}]}, "mark": {"type": "text", "text": "Phase I", "fontSize": 17, "fontWeight": "bold", "color": "#b71c1c", "align": "center", "baseline": "middle"},
         "encoding": {"x": {"datum": 15.9, "type": "quantitative"}, "y": {"datum": 1.0, "type": "quantitative"}}},
        {"data": {"values": [{}]}, "mark": {"type": "text", "text": "(b)", "fontSize": 21, "align": "left", "baseline": "alphabetic", "color": "#222222"},
         "encoding": {"x": {"datum": 7.9, "type": "quantitative"}, "y": {"datum": 1.009, "type": "quantitative"}}},
        {"data": {"values": [{}]}, "mark": {"type": "rule", "color": "#222222", "strokeWidth": 1.3},
         "encoding": {"x": {"datum": 10, "type": "quantitative"}, "y": {"datum": 1.053, "type": "quantitative"}, "y2": {"datum": 1.1}}},
        {"data": {"values": [{}]}, "mark": {"type": "rule", "color": "#222222", "strokeWidth": 1.3},
         "encoding": {"x": {"datum": 10, "type": "quantitative"}, "x2": {"datum": 10.3}, "y": {"datum": 1.1, "type": "quantitative"}}},
        {"data": {"values": [{}]}, "mark": {"type": "rule", "color": "#222222", "strokeWidth": 1.3},
         "encoding": {"x": {"datum": 10.3, "type": "quantitative"}, "y": {"datum": 1.1, "type": "quantitative"}, "y2": {"datum": 1.153}}},
        {"data": {"values": [{}]}, "mark": {"type": "point", "shape": "M0,-1L0.8,1L-0.8,1Z", "size": 100, "filled": true, "color": "#111111", "opacity": 1},
         "encoding": {"x": {"datum": 10.3, "type": "quantitative"}, "y": {"datum": 1.153, "type": "quantitative"}}},
        {"data": {"values": [{}]}, "mark": {"type": "rule", "color": "#222222", "strokeWidth": 1.3},
         "encoding": {"x": {"datum": 14, "type": "quantitative"}, "y": {"datum": 1.053, "type": "quantitative"}, "y2": {"datum": 1.1}}},
        {"data": {"values": [{}]}, "mark": {"type": "rule", "color": "#222222", "strokeWidth": 1.3},
         "encoding": {"x": {"datum": 14, "type": "quantitative"}, "x2": {"datum": 14.4}, "y": {"datum": 1.1, "type": "quantitative"}}},
        {"data": {"values": [{}]}, "mark": {"type": "rule", "color": "#222222", "strokeWidth": 1.3},
         "encoding": {"x": {"datum": 14.4, "type": "quantitative"}, "y": {"datum": 1.1, "type": "quantitative"}, "y2": {"datum": 1.153}}},
        {"data": {"values": [{}]}, "mark": {"type": "point", "shape": "M0,-1L0.8,1L-0.8,1Z", "size": 100, "filled": true, "color": "#111111", "opacity": 1},
         "encoding": {"x": {"datum": 14.4, "type": "quantitative"}, "y": {"datum": 1.153, "type": "quantitative"}}},
        {"data": {"values": [{}]}, "mark": {"type": "rule", "color": "#222222", "strokeWidth": 1.3},
         "encoding": {"x": {"datum": 15.4, "type": "quantitative"}, "y": {"datum": 1.053, "type": "quantitative"}, "y2": {"datum": 1.1}}},
        {"data": {"values": [{}]}, "mark": {"type": "rule", "color": "#222222", "strokeWidth": 1.3},
         "encoding": {"x": {"datum": 15.4, "type": "quantitative"}, "x2": {"datum": 18.5}, "y": {"datum": 1.1, "type": "quantitative"}}},
        {"data": {"values": [{}]}, "mark": {"type": "rule", "color": "#222222", "strokeWidth": 1.3},
         "encoding": {"x": {"datum": 18.5, "type": "quantitative"}, "y": {"datum": 1.1, "type": "quantitative"}, "y2": {"datum": 1.153}}},
        {"data": {"values": [{}]}, "mark": {"type": "point", "shape": "M0,-1L0.8,1L-0.8,1Z", "size": 100, "filled": true, "color": "#111111", "opacity": 1},
         "encoding": {"x": {"datum": 18.5, "type": "quantitative"}, "y": {"datum": 1.153, "type": "quantitative"}}}
      ]
    },
    {
      "width": 549, "height": 161,
      "layer": [
        {"data": {"name": "orient"}, "transform": [{"filter": "datum.mod === 'T-mod'"}], "mark": {"type": "line", "color": "#b71c1c", "strokeWidth": 1.2},
         "encoding": {"x": {"field": "T", "type": "quantitative", "scale": {"domain": [9.5, 20.5], "nice": false, "zero": false},
                            "axis": {"values": [10, 12, 14, 16, 18, 20], "title": "Temperature (K)", "titlePadding": 6}},
                      "y": {"field": "v", "type": "quantitative", "scale": {"domain": [-90, 90], "nice": false, "zero": false},
                            "axis": {"values": [-90, -45, 0, 45, 90], "title": "Orientation (deg)", "titlePadding": 13}}}},
        {"data": {"name": "orient"}, "transform": [{"filter": "datum.mod === 'H-mod'"}], "mark": {"type": "line", "color": "#3d3df2", "strokeWidth": 1.2},
         "encoding": {"x": {"field": "T", "type": "quantitative"}, "y": {"field": "v", "type": "quantitative"}}},
        {"data": {"values": [{}]}, "mark": {"type": "rule", "color": "#9a9a9a", "strokeWidth": 1.3, "strokeDash": [8, 5]},
         "encoding": {"y": {"datum": 0, "type": "quantitative"}}},
        {"data": {"values": [{}]}, "mark": {"type": "rule", "color": "#9a9a9a", "strokeWidth": 1.3, "strokeDash": [8, 5]},
         "encoding": {"x": {"datum": 15.2, "type": "quantitative"}}},
        {"data": {"values": [{}]}, "mark": {"type": "rule", "color": "#9a9a9a", "strokeWidth": 1.3, "strokeDash": [8, 5]},
         "encoding": {"x": {"datum": 16.6, "type": "quantitative"}}},
        {"data": {"name": "orient"}, "transform": [{"filter": "datum.mod === 'T-mod'"}], "mark": {"type": "point", "shape": "circle", "filled": true, "color": "#b71c1c", "size": 190, "opacity": 1},
         "encoding": {"x": {"field": "T", "type": "quantitative"}, "y": {"field": "v", "type": "quantitative"}}},
        {"data": {"name": "orient"}, "transform": [{"filter": "datum.mod === 'H-mod'"}], "mark": {"type": "point", "shape": "M0,-1.2L0.85,0L0,1.2L-0.85,0Z", "filled": true, "color": "#3d3df2", "size": 190, "opacity": 1},
         "encoding": {"x": {"field": "T", "type": "quantitative"}, "y": {"field": "v", "type": "quantitative"}}},
        {"data": {"name": "orient"}, "transform": [{"filter": "false"}], "mark": {"type": "point", "size": 400, "strokeWidth": 1.3, "opacity": 1},
         "encoding": {"x": {"field": "T", "type": "quantitative"}, "y": {"field": "v", "type": "quantitative"},
                      "fill": {"field": "mod", "type": "nominal", "scale": {"domain": ["T-mod", "H-mod"], "range": ["#b71c1c", "#3d3df2"]}, "legend": {"title": null}},
                      "stroke": {"field": "mod", "type": "nominal", "scale": {"domain": ["T-mod", "H-mod"], "range": ["#b71c1c", "#3d3df2"]}, "legend": {"title": null}},
                      "shape": {"field": "mod", "type": "nominal", "scale": {"domain": ["T-mod", "H-mod"], "range": ["M-2,0H2M0,-1V1M-0.35,-1H0.35M-0.35,1H0.35M0.65,0A0.65,0.65,0,1,1,-0.65,0A0.65,0.65,0,1,1,0.65,0Z", "M-2,0H2M0,-1V1M-0.35,-1H0.35M-0.35,1H0.35M0,-0.9L0.6,0L0,0.9L-0.6,0Z"]}, "legend": {"title": null}}}},
        {"data": {"values": [{}]}, "mark": {"type": "text", "text": "(c)", "fontSize": 21, "align": "left", "baseline": "alphabetic", "color": "#222222"},
         "encoding": {"x": {"datum": 7.92, "type": "quantitative"}, "y": {"datum": 104.5, "type": "quantitative"}}}
      ]
    }
  ]
}
